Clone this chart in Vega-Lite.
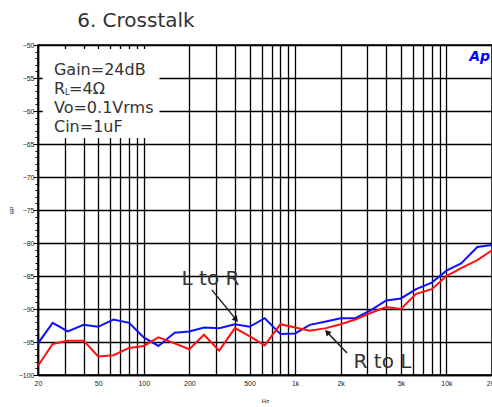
{
  "$schema": "https://vega.github.io/schema/vega-lite/v6.json",
  "width": 454,
  "height": 330,
  "autosize": {"type": "none"},
  "padding": {"left": 38, "top": 45, "right": 0, "bottom": 32},
  "background": "white",
  "view": {"stroke": "#000", "strokeWidth": 1.5},
  "layer": [
    {
      "data": {"values": [
        {"path": "L to R", "freq": 20, "db": -95.2},
        {"path": "L to R", "freq": 25, "db": -92.1},
        {"path": "L to R", "freq": 31.5, "db": -93.4},
        {"path": "L to R", "freq": 40, "db": -92.4},
        {"path": "L to R", "freq": 50, "db": -92.7},
        {"path": "L to R", "freq": 63, "db": -91.6},
        {"path": "L to R", "freq": 80, "db": -92.1},
        {"path": "L to R", "freq": 100, "db": -94.3},
        {"path": "L to R", "freq": 125, "db": -95.6},
        {"path": "L to R", "freq": 160, "db": -93.6},
        {"path": "L to R", "freq": 200, "db": -93.4},
        {"path": "L to R", "freq": 250, "db": -92.8},
        {"path": "L to R", "freq": 315, "db": -92.9},
        {"path": "L to R", "freq": 400, "db": -92.3},
        {"path": "L to R", "freq": 500, "db": -92.7},
        {"path": "L to R", "freq": 630, "db": -91.4},
        {"path": "L to R", "freq": 800, "db": -93.8},
        {"path": "L to R", "freq": 1000, "db": -93.7},
        {"path": "L to R", "freq": 1250, "db": -92.4},
        {"path": "L to R", "freq": 1600, "db": -91.9},
        {"path": "L to R", "freq": 2000, "db": -91.4},
        {"path": "L to R", "freq": 2500, "db": -91.4},
        {"path": "L to R", "freq": 3150, "db": -90.2},
        {"path": "L to R", "freq": 4000, "db": -88.7},
        {"path": "L to R", "freq": 5000, "db": -88.4},
        {"path": "L to R", "freq": 6300, "db": -87.0},
        {"path": "L to R", "freq": 8000, "db": -86.0},
        {"path": "L to R", "freq": 10000, "db": -84.2},
        {"path": "L to R", "freq": 12500, "db": -83.1},
        {"path": "L to R", "freq": 16000, "db": -80.6},
        {"path": "L to R", "freq": 20000, "db": -80.3},
        {"path": "R to L", "freq": 20, "db": -98.6},
        {"path": "R to L", "freq": 25, "db": -95.3},
        {"path": "R to L", "freq": 31.5, "db": -94.8},
        {"path": "R to L", "freq": 40, "db": -94.8},
        {"path": "R to L", "freq": 50, "db": -97.2},
        {"path": "R to L", "freq": 63, "db": -97.0},
        {"path": "R to L", "freq": 80, "db": -95.9},
        {"path": "R to L", "freq": 100, "db": -95.6},
        {"path": "R to L", "freq": 125, "db": -94.3},
        {"path": "R to L", "freq": 160, "db": -95.2},
        {"path": "R to L", "freq": 200, "db": -96.1},
        {"path": "R to L", "freq": 250, "db": -93.9},
        {"path": "R to L", "freq": 315, "db": -96.3},
        {"path": "R to L", "freq": 400, "db": -92.9},
        {"path": "R to L", "freq": 500, "db": -94.1},
        {"path": "R to L", "freq": 630, "db": -95.5},
        {"path": "R to L", "freq": 800, "db": -92.3},
        {"path": "R to L", "freq": 1000, "db": -92.8},
        {"path": "R to L", "freq": 1250, "db": -93.3},
        {"path": "R to L", "freq": 1600, "db": -92.9},
        {"path": "R to L", "freq": 2000, "db": -92.3},
        {"path": "R to L", "freq": 2500, "db": -91.6},
        {"path": "R to L", "freq": 3150, "db": -90.6},
        {"path": "R to L", "freq": 4000, "db": -89.7},
        {"path": "R to L", "freq": 5000, "db": -90.0},
        {"path": "R to L", "freq": 6300, "db": -87.7},
        {"path": "R to L", "freq": 8000, "db": -87.0},
        {"path": "R to L", "freq": 10000, "db": -85.0},
        {"path": "R to L", "freq": 12500, "db": -83.8},
        {"path": "R to L", "freq": 16000, "db": -82.6},
        {"path": "R to L", "freq": 20000, "db": -81.1}
      ]},
      "mark": {"type": "line", "strokeWidth": 2, "clip": true},
      "encoding": {
        "x": {
          "field": "freq", "type": "quantitative",
          "scale": {"type": "log", "domain": [20, 20000], "nice": false},
          "axis": {
            "title": "Hz",
            "values": [20, 30, 40, 50, 60, 70, 80, 90, 100, 200, 300, 400, 500, 600, 700, 800, 900, 1000, 2000, 3000, 4000, 5000, 6000, 7000, 8000, 9000, 10000, 20000],
            "tickCount": 200,
            "labelExpr": "indexof([20,50,100,200,500,1000,2000,5000,10000,20000], datum.value) >= 0 ? (datum.value >= 1000 ? (datum.value/1000) + 'k' : '' + datum.value) : ''",
            "grid": true, "gridColor": "#000", "gridOpacity": 1, "gridWidth": 1.3,
            "ticks": false, "domainColor": "#000", "domainWidth": 1.5,
            "labelFont": "Liberation Sans", "labelFontSize": 7, "labelColor": "#222", "labelPadding": 4,
            "labelFlush": false, "labelOverlap": false, "labelBound": false,
            "titleFont": "Liberation Sans", "titleFontSize": 6, "titleFontWeight": "normal", "titleColor": "#222", "titlePadding": 11
          }
        },
        "y": {
          "field": "db", "type": "quantitative",
          "scale": {"domain": [-100, -50], "nice": false, "zero": false},
          "axis": {
            "title": "dB",
            "format": "d",
            "values": [-100, -99, -98, -97, -96, -95, -94, -93, -92, -91, -90, -89, -88, -87, -86, -85, -84, -83, -82, -81, -80, -79, -78, -77, -76, -75, -74, -73, -72, -71, -70, -69, -68, -67, -66, -65, -64, -63, -62, -61, -60, -59, -58, -57, -56, -55, -54, -53, -52, -51, -50],
            "tickCount": 200,
            "labelExpr": "datum.value % 5 === 0 ? datum.label : ''",
            "grid": true, "gridColor": "#000", "gridWidth": 1.3,
            "gridOpacity": {"condition": {"test": "datum.value % 5 === 0", "value": 1}, "value": 0},
            "tickSize": {"condition": {"test": "datum.value % 5 === 0", "value": 5}, "value": 3},
            "tickColor": "#000", "tickWidth": 1,
            "domainColor": "#000", "domainWidth": 1.5,
            "labelFont": "Liberation Sans", "labelFontSize": 7, "labelColor": "#222", "labelPadding": -1,
            "labelOverlap": false, "labelFlush": false, "labelBound": false,
            "titleFont": "Liberation Sans", "titleFontSize": 6, "titleFontWeight": "normal", "titleColor": "#222", "titleAngle": 90, "titlePadding": 10
          }
        },
        "color": {
          "field": "path", "type": "nominal",
          "scale": {"domain": ["L to R", "R to L"], "range": ["#1010ff", "#ff1010"]},
          "legend": null
        }
      }
    },
    {
      "data": {"values": [{}]},
      "mark": {"type": "rect", "fill": "white"},
      "encoding": {"x": {"datum": 21.5}, "x2": {"datum": 127}, "y": {"datum": -50.6}, "y2": {"datum": -64.1}}
    },
    {
      "data": {"values": [{}]},
      "mark": {"type": "text", "align": "left", "baseline": "alphabetic", "font": "DejaVu Sans", "fontSize": 20, "color": "#333"},
      "encoding": {"x": {"datum": 36.3}, "y": {"datum": -47.27}, "text": {"value": "6. Crosstalk"}}
    },
    {
      "data": {"values": [{}]},
      "mark": {"type": "text", "align": "left", "baseline": "alphabetic", "font": "DejaVu Sans", "fontSize": 16, "color": "#333"},
      "encoding": {"x": {"datum": 25.5}, "y": {"datum": -54.55}, "text": {"value": "Gain=24dB"}}
    },
    {
      "data": {"values": [{}]},
      "mark": {"type": "text", "align": "left", "baseline": "alphabetic", "font": "DejaVu Sans", "fontSize": 16, "color": "#333"},
      "encoding": {"x": {"datum": 25.5}, "y": {"datum": -57.35}, "text": {"value": "R"}}
    },
    {
      "data": {"values": [{}]},
      "mark": {"type": "text", "align": "left", "baseline": "alphabetic", "font": "DejaVu Sans", "fontSize": 8, "color": "#333"},
      "encoding": {"x": {"datum": 30.2}, "y": {"datum": -57.6}, "text": {"value": "L"}}
    },
    {
      "data": {"values": [{}]},
      "mark": {"type": "text", "align": "left", "baseline": "alphabetic", "font": "DejaVu Sans", "fontSize": 16, "color": "#333"},
      "encoding": {"x": {"datum": 32.1}, "y": {"datum": -57.35}, "text": {"value": "=4Ω"}}
    },
    {
      "data": {"values": [{}]},
      "mark": {"type": "text", "align": "left", "baseline": "alphabetic", "font": "DejaVu Sans", "fontSize": 16, "color": "#333"},
      "encoding": {"x": {"datum": 25.5}, "y": {"datum": -60.3}, "text": {"value": "Vo=0.1Vrms"}}
    },
    {
      "data": {"values": [{}]},
      "mark": {"type": "text", "align": "left", "baseline": "alphabetic", "font": "DejaVu Sans", "fontSize": 16, "color": "#333"},
      "encoding": {"x": {"datum": 25.5}, "y": {"datum": -63.18}, "text": {"value": "Cin=1uF"}}
    },
    {
      "data": {"values": [{}]},
      "mark": {"type": "text", "align": "right", "baseline": "middle", "font": "DejaVu Sans", "fontSize": 14, "fontWeight": "bold", "fontStyle": "italic", "color": "#0000ff"},
      "encoding": {"x": {"datum": 19400}, "y": {"datum": -51.8}, "text": {"value": "Ap"}}
    },
    {
      "data": {"values": [{}]},
      "mark": {"type": "text", "align": "center", "baseline": "alphabetic", "font": "DejaVu Sans", "fontSize": 20, "color": "#333"},
      "encoding": {"x": {"datum": 276}, "y": {"datum": -86.4}, "text": {"value": "L to R"}}
    },
    {
      "data": {"values": [{}]},
      "mark": {"type": "text", "align": "center", "baseline": "alphabetic", "font": "DejaVu Sans", "fontSize": 20, "color": "#333"},
      "encoding": {"x": {"datum": 3777}, "y": {"datum": -98.9}, "text": {"value": "R to L"}}
    },
    {
      "data": {"values": [{}]},
      "mark": {"type": "rule", "color": "#222", "strokeWidth": 1.5},
      "encoding": {"x": {"datum": 282}, "y": {"datum": -87.1}, "x2": {"datum": 403.7}, "y2": {"datum": -91.5}}
    },
    {
      "data": {"values": [{}]},
      "mark": {"type": "point", "shape": "triangle", "filled": true, "color": "#111", "size": 45, "angle": 141, "opacity": 1},
      "encoding": {"x": {"datum": 403.7}, "y": {"datum": -91.5}}
    },
    {
      "data": {"values": [{}]},
      "mark": {"type": "rule", "color": "#222", "strokeWidth": 1.5},
      "encoding": {"x": {"datum": 2203}, "y": {"datum": -96.67}, "x2": {"datum": 1644}, "y2": {"datum": -93.62}}
    },
    {
      "data": {"values": [{}]},
      "mark": {"type": "point", "shape": "triangle", "filled": true, "color": "#111", "size": 45, "angle": 316, "opacity": 1},
      "encoding": {"x": {"datum": 1644}, "y": {"datum": -93.62}}
    }
  ]
}
